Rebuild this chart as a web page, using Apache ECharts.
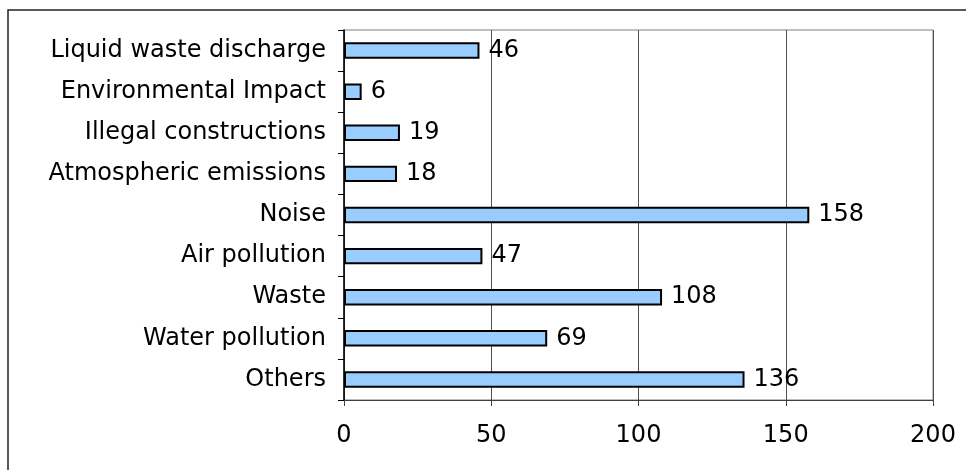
<!DOCTYPE html>
<html><head><meta charset="utf-8">
<script src="https://cdn.jsdelivr.net/npm/echarts@6/dist/echarts.min.js"></script>
<style>html,body{margin:0;padding:0;background:#fff}#c{width:966px;height:470px}</style>
</head><body><div id="c"></div>
<script>
const categories = ['Others','Water pollution','Waste','Air pollution','Noise','Atmospheric emissions','Illegal constructions','Environmental Impact','Liquid waste discharge'];
const values = [136, 69, 108, 47, 158, 18, 19, 6, 46];
const xTicks = [0, 50, 100, 150, 200];

const chart = echarts.init(document.getElementById('c'), null, {renderer:'canvas'});
const font = 'DejaVu Sans, Verdana, sans-serif';
chart.setOption({
  animation:false,
  backgroundColor:'#fff',
  grid:{left:344, right:33, top:30, bottom:70, show:true, borderColor:'#808080', borderWidth:1},
  graphic:[{type:'polyline', shape:{points:[[8,470],[8,10],[966,10]]}, style:{stroke:'#222', lineWidth:1.5, fill:null}, z:0}],
  xAxis:{type:'value', min:xTicks[0], max:xTicks[xTicks.length-1], interval:50,
    axisLine:{show:true, lineStyle:{color:'#404040', width:1}},
    axisTick:{show:true, length:6, lineStyle:{color:'#404040'}},
    axisLabel:{fontFamily:font, fontSize:24, color:'#000', margin:24},
    splitLine:{show:true, lineStyle:{color:'#505050', width:1}}},
  yAxis:{type:'category', data:categories,
    axisLine:{show:true, lineStyle:{color:'#000', width:1.5}},
    axisTick:{show:true, length:6, lineStyle:{color:'#000'}},
    axisLabel:{fontFamily:font, fontSize:24, color:'#000', margin:18}},
  series:[{type:'bar', data:values, barWidth:'40%',
    itemStyle:{color:'#99CCFF', borderColor:'#000', borderWidth:2},
    label:{show:true, position:'right', distance:9, fontFamily:font, fontSize:24, color:'#000'}}]
});
</script></body></html>
